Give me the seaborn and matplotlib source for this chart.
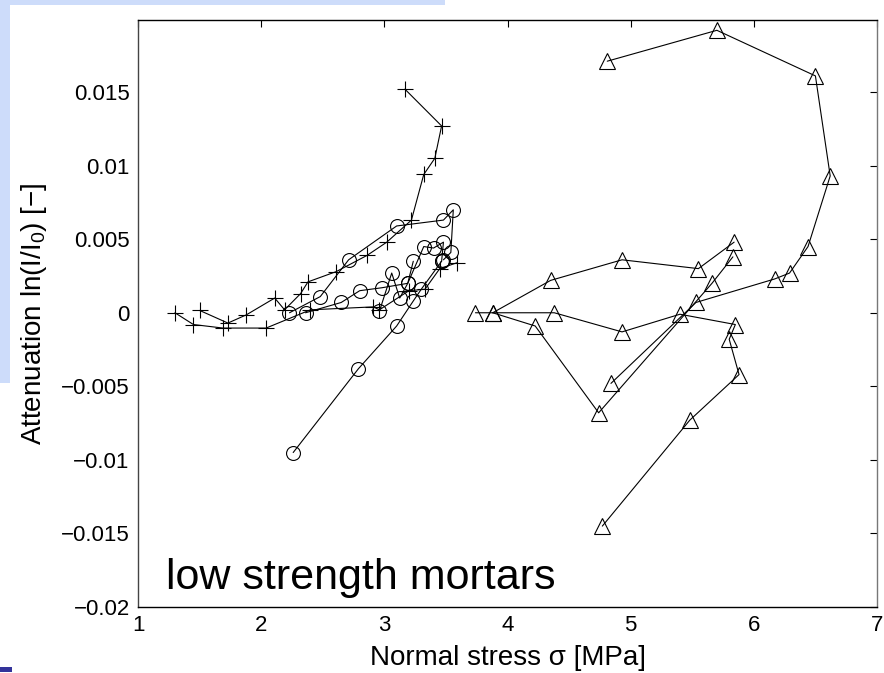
import seaborn as sns
import matplotlib.pyplot as plt
from matplotlib.patches import Rectangle

# plus-marker series (left cluster)
plus_a_x = [1.30, 1.45, 1.69, 2.04, 2.40, 2.91, 2.96, 3.20, 3.33, 3.45, 3.59]
plus_a_y = [0.0, -0.0008, -0.00104, -0.00104, 0.0002, 0.0004, 0.0002, 0.0015, 0.0016, 0.0030, 0.0034]
plus_b_x = [1.50, 1.73, 1.88, 2.11, 2.19, 2.32, 2.38, 2.61, 2.86, 3.02, 3.22, 3.32, 3.41, 3.465, 3.167]
plus_b_y = [0.00016, -0.0007, -0.00014, 0.0010, 0.0002, 0.0013, 0.0021, 0.0028, 0.0039, 0.0048,
            0.0063, 0.0094, 0.0105, 0.0127, 0.0152]

# circle-marker series
circ_a_x = [2.26, 2.79, 3.10, 3.235, 3.30, 3.465]
circ_a_y = [-0.0095, -0.0038, -0.0009, 0.0008, 0.0016, 0.0035]
circ_b_x = [2.23, 2.48, 2.71, 3.10, 3.48, 3.56, 3.54, 3.48]
circ_b_y = [0.0, 0.0011, 0.0036, 0.0059, 0.0063, 0.0070, 0.0041, 0.0036]
circ_c_x = [2.36, 2.65, 2.80, 2.98, 3.19, 3.32, 3.40, 3.48, 3.465]
circ_c_y = [0.0, 0.0007, 0.0015, 0.0017, 0.0020, 0.0045, 0.0044, 0.0048, 0.0035]
circ_d_x = [2.96, 3.06, 3.125, 3.19, 3.235]
circ_d_y = [0.0001, 0.0027, 0.0010, 0.0020, 0.0035]

# triangle-marker series (right group)
tri_a_x = [4.81, 5.70, 6.50, 6.62, 6.44, 6.29, 6.17, 5.53, 4.84]
tri_a_y = [0.0171, 0.0192, 0.0161, 0.0093, 0.0045, 0.0027, 0.0023, 0.0007, -0.0048]
tri_b_x = [3.74, 4.38, 4.93, 5.40, 5.85, 5.80, 5.88, 5.48, 4.77]
tri_b_y = [0.0, 0.0, -0.0013, -0.0001, -0.0008, -0.0018, -0.0042, -0.0073, -0.0145]
tri_c_x = [3.88, 4.35, 4.93, 5.55, 5.84]
tri_c_y = [0.0, 0.0022, 0.0036, 0.0030, 0.0048]
tri_d_x = [3.88, 4.225, 4.74, 5.66, 5.83]
tri_d_y = [0.0, -0.0009, -0.0068, 0.0020, 0.0038]

x_ticks = [1, 2, 3, 4, 5, 6, 7]
y_ticks = [-0.02, -0.015, -0.01, -0.005, 0, 0.005, 0.01, 0.015]
y_tick_labels = ['\u22120.02', '\u22120.015', '\u22120.01', '\u22120.005', '0', '0.005', '0.01', '0.015']

sns.set_style('white')
plt.rcParams['font.family'] = ['Liberation Sans', 'DejaVu Sans']
plt.rcParams['mathtext.default'] = 'regular'
plt.rcParams['text.color'] = 'k'
plt.rcParams['axes.labelcolor'] = 'k'

fig = plt.figure(figsize=(8.84, 6.73), dpi=100)
W, H = 884, 673
# bits of the slide behind the picture
fig.patches.append(Rectangle((0, 1 - 5 / H), 445 / W, 5 / H, transform=fig.transFigure,
                             facecolor='#cddcfa', edgecolor='none'))
fig.patches.append(Rectangle((0, 1 - 383 / H), 10 / W, 383 / H, transform=fig.transFigure,
                             facecolor='#cddcfa', edgecolor='none'))
fig.patches.append(Rectangle((0, 1 - 672 / H), 12 / W, 5 / H, transform=fig.transFigure,
                             facecolor='#33339a', edgecolor='none'))

ax = fig.add_axes([138 / W, 1 - 607 / H, (877 - 138) / W, (607 - 20) / H])

series = [
    (plus_a_x, plus_a_y, '+', 12),
    (plus_b_x, plus_b_y, '+', 12),
    (circ_a_x, circ_a_y, 'o', 10),
    (circ_b_x, circ_b_y, 'o', 10),
    (circ_c_x, circ_c_y, 'o', 10),
    (circ_d_x, circ_d_y, 'o', 10),
    (tri_a_x, tri_a_y, '^', 12),
    (tri_b_x, tri_b_y, '^', 12),
    (tri_c_x, tri_c_y, '^', 12),
    (tri_d_x, tri_d_y, '^', 12),
]
for xs, ys, mk, ms in series:
    sns.lineplot(x=xs, y=ys, ax=ax, sort=False, estimator=None, color='k', lw=0.8,
                 marker=mk, markersize=ms, markerfacecolor='none',
                 markeredgecolor='k', markeredgewidth=0.8, legend=False)

ax.set_xlim(1, 7)
ax.set_ylim(-0.02, 0.0199)
ax.set_xticks(x_ticks)
ax.set_xticklabels([str(t) for t in x_ticks])
ax.set_yticks(y_ticks)
ax.set_yticklabels(y_tick_labels)
ax.tick_params(direction='in', length=5, width=0.8, top=True, right=True,
               labelsize=16, colors='k', pad=6)
for side in ['left', 'right', 'top', 'bottom']:
    ax.spines[side].set_visible(True)
    ax.spines[side].set_linewidth(1.0)
ax.spines['top'].set_color('k')
ax.spines['bottom'].set_color('k')
ax.spines['left'].set_color('#444444')
ax.spines['right'].set_color('#777777')

ax.set_xlabel('Normal stress \u03c3 [MPa]', fontsize=20)
ax.xaxis.set_label_coords(0.5, -0.064)
ax.set_ylabel('Attenuation ln(I/I$_0$) [\u2212]', fontsize=20)
ax.yaxis.set_label_coords(-0.121, 0.5)

ax.text(1.227, -0.0188, 'low strength mortars', fontsize=31, va='baseline', ha='left')

fig.savefig('out.png', dpi=100)
